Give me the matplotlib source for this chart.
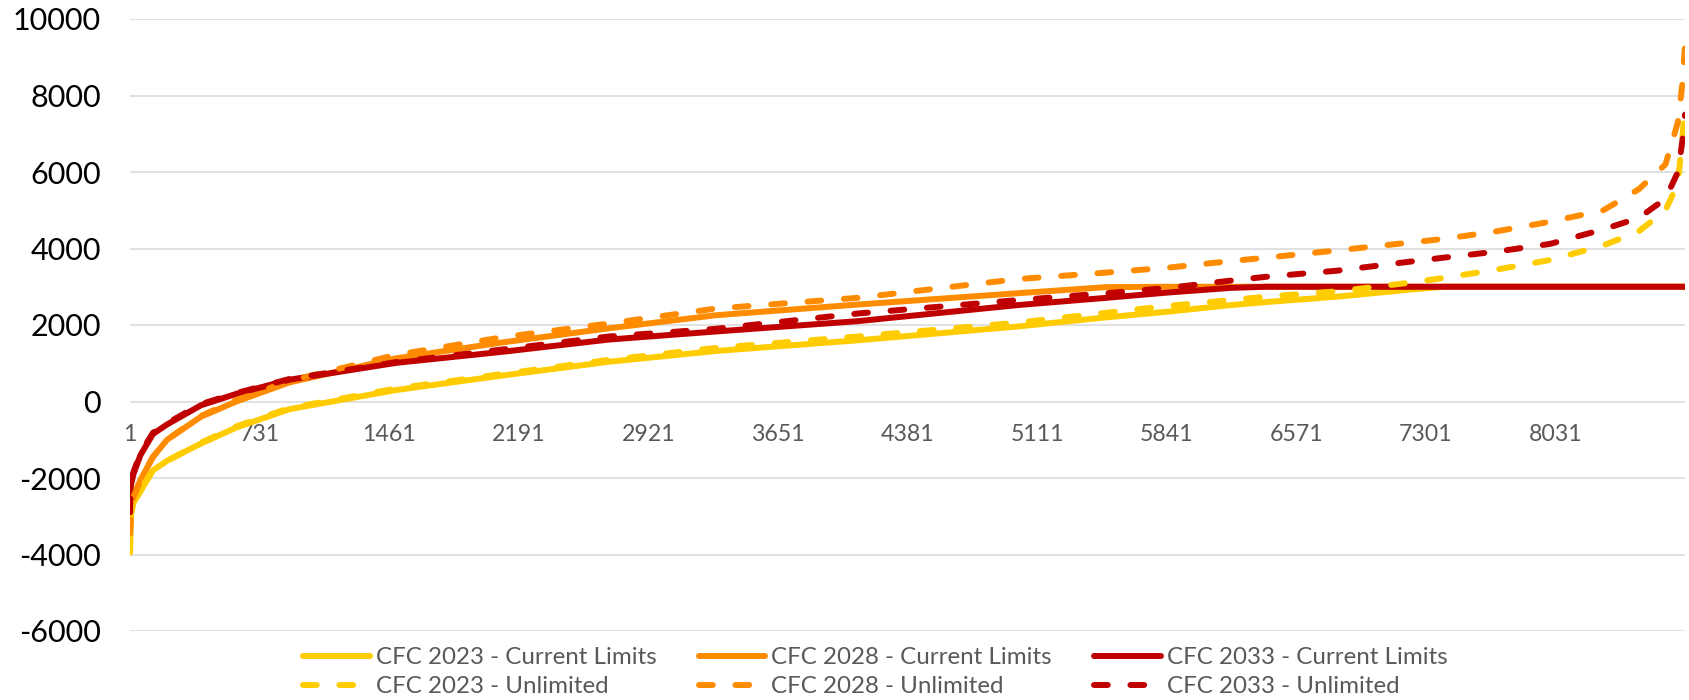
import matplotlib
matplotlib.use("Agg")
import matplotlib.pyplot as plt

plt.rcParams['font.family'] = ['Lato', 'DejaVu Sans']
plt.rcParams['axes.unicode_minus'] = False

# hours of the year (sorted duration curve)
hours = [1, 6, 20, 60, 130, 210, 400, 600, 900, 1500, 2100, 2700, 3300, 4100,
         5000, 5500, 5850, 6200, 6400, 6800, 7200, 7400, 7700, 8000, 8300, 8500,
         8650, 8720, 8745, 8760]

cfc2023_cl = [-3950, -3000, -2650, -2350, -1800, -1550, -1100, -680, -200, 300,
              680, 1040, 1320, 1600, 1960, 2200, 2350, 2520, 2600, 2740, 2920,
              3000, 3000, 3000, 3000, 3000, 3000, 3000, 3000, 3000]
cfc2028_cl = [-3450, -2900, -2500, -2050, -1450, -1000, -400, 0, 500, 1130,
              1545, 1915, 2255, 2535, 2830, 2990, 3000, 3000, 3000, 3000, 3000,
              3000, 3000, 3000, 3000, 3000, 3000, 3000, 3000, 3000]
cfc2033_cl = [-2900, -2200, -1900, -1400, -850, -600, -100, 200, 570, 1010,
              1300, 1620, 1830, 2100, 2520, 2710, 2850, 2970, 3000, 3000, 3000,
              3000, 3000, 3000, 3000, 3000, 3000, 3000, 3000, 3000]
cfc2023_ul = [-3950, -2900, -2600, -2300, -1800, -1550, -1080, -650, -170, 340,
              720, 1090, 1400, 1700, 2060, 2320, 2500, 2650, 2740, 2880, 3100,
              3230, 3450, 3700, 4080, 4450, 5000, 5700, 6900, 7700]
cfc2028_ul = [-3450, -2900, -2500, -2050, -1450, -1000, -380, 40, 540, 1220,
              1680, 2040, 2430, 2710, 3200, 3370, 3500, 3670, 3760, 3950, 4150,
              4250, 4450, 4700, 5000, 5550, 6200, 7300, 8300, 9300]
cfc2033_ul = [-2900, -2100, -1850, -1350, -820, -570, -70, 220, 590, 1030,
              1360, 1700, 1900, 2300, 2650, 2830, 2970, 3160, 3260, 3420, 3650,
              3760, 3920, 4120, 4500, 4800, 5300, 6000, 6800, 7500]

labels = ['CFC 2023 - Current Limits', 'CFC 2028 - Current Limits', 'CFC 2033 - Current Limits',
          'CFC 2023 - Unlimited', 'CFC 2028 - Unlimited', 'CFC 2033 - Unlimited']
colors = ['#FFCC00', '#FF8C00', '#C00000']

yticks = list(range(-6000, 10001, 2000))
xticks = list(range(1, 8760, 730))

fig = plt.figure(figsize=(16.9, 7), dpi=100)
ax = fig.add_axes([130 / 1690, 69 / 700, 1555 / 1690, 612 / 700])

lw = 4.3
handles = []
for ys, c, lab in zip([cfc2023_cl, cfc2028_cl, cfc2033_cl], colors, labels[:3]):
    h, = ax.plot(hours, ys, color=c, lw=lw, label=lab,
                 solid_capstyle='round', solid_joinstyle='round')
    handles.append(h)
for ys, c, lab in zip([cfc2023_ul, cfc2028_ul, cfc2033_ul], colors, labels[3:]):
    h, = ax.plot(hours, ys, color=c, lw=lw, label=lab, dashes=(2.3, 3.8),
                 dash_capstyle='round', dash_joinstyle='round')
    handles.append(h)

ax.set_xlim(1, 8760)
ax.set_ylim(-6000, 10000)
ax.set_yticks(yticks, labels=[str(t) for t in yticks])
ax.set_xticks(xticks, labels=[str(t) for t in xticks])
ax.grid(axis='y', color='#D9D9D9', lw=1.1)
ax.set_axisbelow(True)
for s in ax.spines.values():
    s.set_color('none')
ax.spines['bottom'].set_position(('data', 0))
ax.tick_params(axis='y', length=0, pad=21, labelsize=22, labelcolor='#000000')
ax.tick_params(axis='x', length=0, pad=16, labelsize=16.7, labelcolor='#595959')

# legend: columns by year, rows by limit case
order = [0, 3, 1, 4, 2, 5]
fig.legend([handles[i] for i in order], [labels[i] for i in order],
           loc='center', bbox_to_anchor=(0.518, 0.04), ncol=3, frameon=False,
           fontsize=17.4, labelcolor='#595959', handlelength=2.75,
           handletextpad=0.25, columnspacing=1.75, labelspacing=0.33,
           borderpad=0)

fig.savefig('out.png', dpi=100)
